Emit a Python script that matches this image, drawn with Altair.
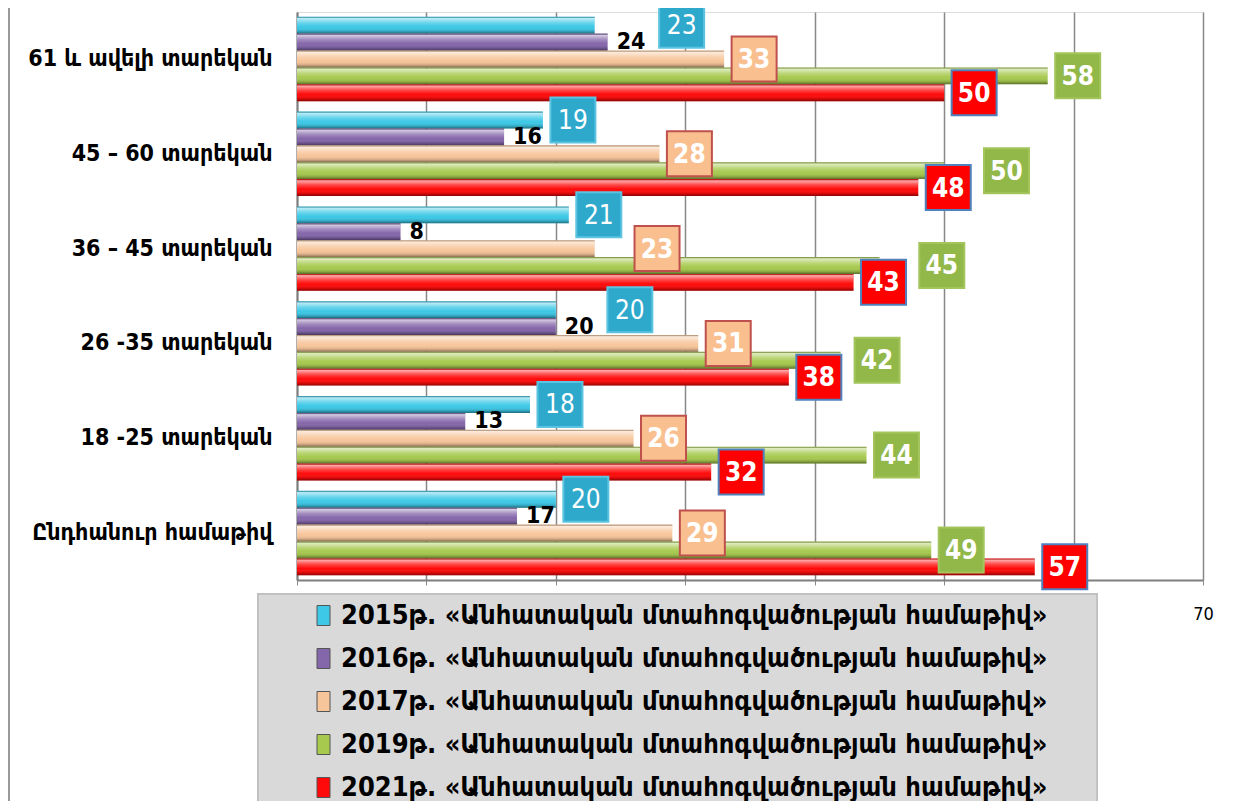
import altair as alt
import pandas as pd

categories = [
    "61 և ավելի տարեկան",
    "45 – 60 տարեկան",
    "36 – 45 տարեկան",
    "26 -35 տարեկան",
    "18 -25 տարեկան",
    "Ընդհանուր համաթիվ",
]
series = [
    "2015թ. «Անհատական մտահոգվածության համաթիվ»",
    "2016թ. «Անհատական մտահոգվածության համաթիվ»",
    "2017թ. «Անհատական մտահոգվածության համաթիվ»",
    "2019թ. «Անհատական մտահոգվածության համաթիվ»",
    "2021թ. «Անհատական մտահոգվածության համաթիվ»",
]
v2015 = [23, 19, 21, 20, 18, 20]
v2016 = [24, 16, 8, 20, 13, 17]
v2017 = [33, 28, 23, 31, 26, 29]
v2019 = [58, 50, 45, 42, 44, 49]
v2021 = [50, 48, 43, 38, 32, 57]
x_ticks = [0, 10, 20, 30, 40, 50, 60, 70]

bar_colors = ["#3cc8e6", "#8466aa", "#f7c59a", "#a6c94e", "#ff0a0a"]

all_vals = [v2015, v2016, v2017, v2019, v2021]
rows = []
for s, vals in zip(series, all_vals):
    for c, v in zip(categories, vals):
        rows.append({"category": c, "series": s, "value": v})
df = pd.DataFrame(rows)

# label anchor (in data units) that avoids collisions between neighbouring labels
lab_rows = []
for i, c in enumerate(categories):
    a, b, p, g, r = v2015[i], v2016[i], v2017[i], v2019[i], v2021[i]
    la = a if b < a else b + 3.4
    lp = la + 4.5 if abs(p - la) < 4.5 else p
    lg = r + 4.5 if abs(g - r) < 4.5 else g
    for s, v, lx in [(series[0], a, la), (series[2], p, lp), (series[3], g, lg), (series[4], r, r)]:
        lab_rows.append({"category": c, "series": s, "value": v, "lx": lx})
lab = pd.DataFrame(lab_rows)

FONT = "DejaVu Sans Condensed"
W, H = 906, 568

x_axis = alt.Axis(
    title=None, values=x_ticks,
    labelExpr="datum.value == 70 ? '70' : ''", labelFlush=False,
    labelFont=FONT, labelFontSize=18, labelColor="black", labelPadding=20,
    grid=True, gridColor="#888888", gridWidth=1.5,
    domainColor="#7f7f7f", domainWidth=2, tickColor="#8a8a8a", tickSize=5,
)
x_scale = alt.Scale(domain=[0, 70], nice=False, zero=True)
x_enc = alt.X("value:Q", scale=x_scale, axis=x_axis)
xl_enc = alt.X("lx:Q", scale=x_scale, axis=x_axis)
y_enc = alt.Y(
    "category:N", sort=categories,
    scale=alt.Scale(paddingInner=0.11, paddingOuter=0.05),
    axis=alt.Axis(
        title=None, labelFont=FONT, labelFontWeight="bold", labelFontSize=23,
        labelColor="black", labelPadding=25, ticks=False, labelLimit=400,
        domainColor="#7f7f7f", domainWidth=2, grid=False,
    ),
)
yoff = alt.YOffset("series:N", sort=series, scale=alt.Scale(domain=series, paddingInner=0, paddingOuter=0))

color_enc = alt.Color(
    "series:N", sort=series,
    scale=alt.Scale(domain=series, range=bar_colors),
    legend=alt.Legend(
        title=None, orient="none", legendX=13, legendY=590, direction="vertical",
        padding=0, symbolType="M-0.65,-1L0.65,-1L0.65,1L-0.65,1Z",
        symbolSize=400, symbolStrokeWidth=1, symbolStrokeColor="#555555",
        labelOffset=4, labelFont=FONT, labelFontWeight="bold", labelFontSize=27,
        labelColor="black", rowPadding=15, labelLimit=1000,
    ),
)

base = alt.Chart(df)
lbase = alt.Chart(lab)

# legend background panel
panel = base.mark_rect(fill="#d9d9d9", stroke="#bdbdbd", strokeWidth=1.5).encode(
    x=alt.value(-39), x2=alt.value(800), y=alt.value(582), y2=alt.value(800)
)

bars = base.mark_bar().encode(x=x_enc, y=y_enc, yOffset=yoff, color=color_enc)

shine = base.mark_bar(
    color=alt.Gradient(
        gradient="linear", x1=0, x2=0, y1=0, y2=1,
        stops=[
            alt.GradientStop(offset=0, color="rgba(0,0,0,0.2)"),
            alt.GradientStop(offset=0.1, color="rgba(255,255,255,0.65)"),
            alt.GradientStop(offset=0.35, color="rgba(255,255,255,0.25)"),
            alt.GradientStop(offset=0.6, color="rgba(255,255,255,0)"),
            alt.GradientStop(offset=0.85, color="rgba(0,0,0,0.15)"),
            alt.GradientStop(offset=1, color="rgba(0,0,0,0.45)"),
        ],
    )
).encode(x=x_enc, y=y_enc, yOffset=yoff)

box_styles = {
    series[0]: ("#2ea9cc", "#5cc4e0", "normal"),
    series[2]: ("#f9bf8f", "#c0504d", "bold"),
    series[3]: ("#92b84a", "#a3c55c", "bold"),
    series[4]: ("#ff0000", "#4f81bd", "bold"),
}

layers = [panel, bars, shine]
for s, (fill, stroke, weight) in box_styles.items():
    sub = lbase.transform_filter(alt.datum.series == s)
    box = sub.mark_point(
        shape="square", size=2025, filled=True, fill=fill, stroke=stroke,
        strokeWidth=2, opacity=1, xOffset=30,
    ).encode(x=xl_enc, y=y_enc, yOffset=yoff)
    txt = sub.mark_text(
        font=FONT, fontSize=26, fontWeight=weight, color="white",
        align="center", baseline="middle", dx=30, dy=1,
    ).encode(x=xl_enc, y=y_enc, yOffset=yoff, text="value:Q")
    layers += [box, txt]

plain = base.transform_filter(alt.datum.series == series[1]).mark_text(
    font=FONT, fontSize=23, fontWeight="bold", color="black",
    align="left", baseline="middle", dx=9,
).encode(x=x_enc, y=y_enc, yOffset=yoff, text="value:Q")
layers.append(plain)

border = base.mark_rule(color="#9a9a9a", strokeWidth=2).encode(
    x=alt.value(-288), y=alt.value(-12), y2=alt.value(800)
)
layers.append(border)

chart = alt.layer(*layers).properties(
    width=W, height=H,
    autosize=alt.AutoSizeParams(type="none"),
    padding={"left": 289, "top": 4, "right": 26, "bottom": 221},
).configure_view(fill="#d9d9d9", stroke=None).configure(background="white")

chart.save("out.html", embed_options={"renderer": "svg", "actions": False})
